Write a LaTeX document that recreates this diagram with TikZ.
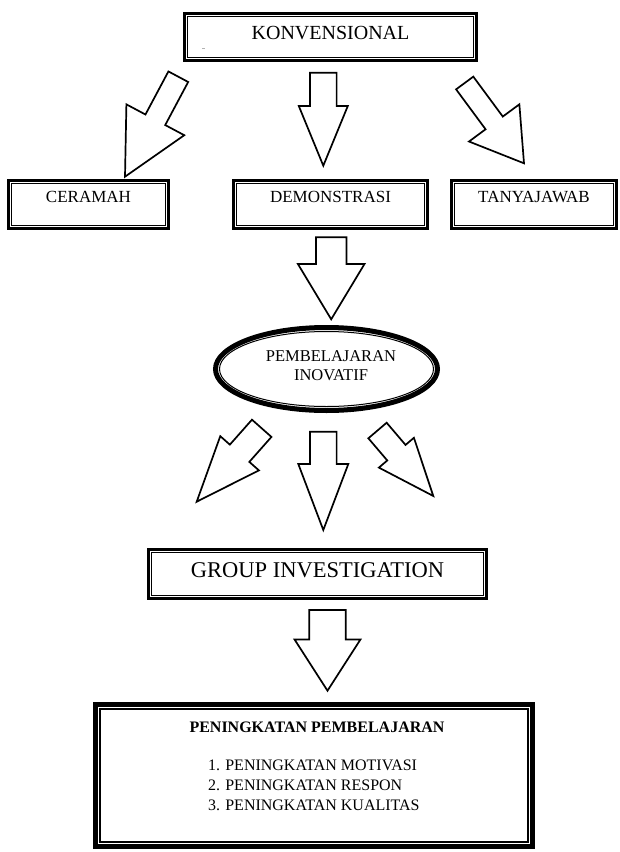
\documentclass[tikz,border=0pt]{standalone}
\usepackage{fontspec}
\setmainfont{Liberation Serif}
\usetikzlibrary{calc,shapes.geometric}
\tikzset{
  dblbox/.style={draw, line width=3pt, outer sep=0pt, inner sep=0pt},
  lvltwo/.style={dblbox, minimum height=48pt, text height=21.5pt, text depth=26.5pt, font=\fontsize{17}{20}\selectfont},
  barrow/.style={draw, line width=1.7pt, fill=white, line join=miter, miter limit=10},
  plaintext/.style={inner sep=0pt, outer sep=0pt},
}
% inner thin frame of a double-bordered box
\newcommand\innerframe[3]{\draw[line width=#3] ([shift={(#2,-#2)}]#1.north west) rectangle ([shift={(-#2,#2)}]#1.south east);}
% block arrow: #1 start, #2 tip, #3 half shaft width, #4 half head width, #5 head length
\newcommand\blockarrow[5]{%
  \coordinate (hb) at ($(#2)!#5!(#1)$);
  \draw[barrow] ($(#1)!#3!-90:(#2)$) -- ($(hb)!#3!90:(#1)$) -- ($(hb)!#4!90:(#1)$) -- (#2)
    -- ($(hb)!#4!-90:(#1)$) -- ($(hb)!#3!-90:(#1)$) -- ($(#1)!#3!90:(#2)$) -- cycle;}
\begin{document}
\begin{tikzpicture}[x=1pt,y=-1pt]
\fill[white] (0,0) rectangle (619,852);
\useasboundingbox (0,0) rectangle (619,852);

% top box
\node[dblbox, minimum width=292pt, minimum height=47pt, text height=25.5pt, text depth=21.5pt,
      font=\fontsize{20}{24}\selectfont] (konv) at (330.5,37) {KONVENSIONAL};
\innerframe{konv}{3.3pt}{1.2pt}
\draw[gray!60, line width=0.6pt] (202,48) -- (205,48);

% second level boxes
\node[lvltwo, minimum width=160pt] (ceramah) at (88.5,204.5) {CERAMAH};
\innerframe{ceramah}{3.3pt}{1.2pt}
\node[lvltwo, minimum width=194pt] (demo) at (330.5,204.5) {DEMONSTRASI};
\innerframe{demo}{3.3pt}{1.2pt}
\node[lvltwo, minimum width=165pt] (tanya) at (534,204.5) {TANYAJAWAB};
\innerframe{tanya}{3.3pt}{1.2pt}

% ellipse
\node[ellipse, draw, line width=5pt, outer sep=0pt, inner sep=0pt,
      minimum width=222pt, minimum height=83pt] (inov) at (326.5,369) {};
\draw[line width=1pt] (inov.center) ellipse [x radius=107pt, y radius=37.5pt];
\node[plaintext, align=center, font=\fontsize{16.5}{19}\selectfont] (inovtxt) at (331,365.5) {PEMBELAJARAN\\INOVATIF};

% group investigation
\node[dblbox, minimum width=338pt, minimum height=49pt, text height=27.5pt, text depth=21.5pt,
      font=\fontsize{22.5}{26}\selectfont] (group) at (317.5,574) {GROUP INVESTIGATION};
\innerframe{group}{3.3pt}{1.2pt}

% result box
\node[draw, line width=5pt, outer sep=0pt, inner sep=0pt, minimum width=437pt, minimum height=142pt] (res) at (314,775.5) {};
\innerframe{res}{4.3pt}{1.5pt}
\node[plaintext, anchor=base, font=\bfseries\fontsize{16}{19}\selectfont] (restitle) at (317,732) {PENINGKATAN PEMBELAJARAN};
\node[plaintext, anchor=base west, font=\fontsize{16}{19}\selectfont] (item1) at (208,770) {1. PENINGKATAN MOTIVASI};
\node[plaintext, anchor=base west, font=\fontsize{16}{19}\selectfont] (item2) at (208,790) {2. PENINGKATAN RESPON};
\node[plaintext, anchor=base west, font=\fontsize{16}{19}\selectfont] (item3) at (208,810) {3. PENINGKATAN KUALITAS};

% arrow end points
\coordinate (s1) at (178.3,76.7);  \coordinate (t1) at (125,176.7);
\coordinate (s2) at (323.3,72.7);  \coordinate (t2) at (323.3,165.7);
\coordinate (s3) at (464.7,83);    \coordinate (t3) at (524,163.3);
\coordinate (s4) at (331.2,237.3); \coordinate (t4) at (331.2,319.3);
\coordinate (s5) at (261.7,428.3); \coordinate (t5) at (196.7,501.7);
\coordinate (s6) at (323.3,431.7); \coordinate (t6) at (323.3,530);
\coordinate (s7) at (377.5,430.5); \coordinate (t7) at (433.3,496);
\coordinate (s8) at (327.5,610);   \coordinate (t8) at (327.5,690.7);

\blockarrow{s1}{t1}{11.2pt}{32.8pt}{64.5pt}
\blockarrow{s2}{t2}{13.3pt}{24.5pt}{59.7pt}
\blockarrow{s3}{t3}{10.7pt}{31.3pt}{50.2pt}
\blockarrow{s4}{t4}{15.3pt}{33.3pt}{55.3pt}
\blockarrow{s5}{t5}{13pt}{25.8pt}{64.7pt}
\blockarrow{s6}{t6}{13.3pt}{25pt}{66pt}
\blockarrow{s7}{t7}{12pt}{23pt}{56.9pt}
\blockarrow{s8}{t8}{18.2pt}{33pt}{51.3pt}
\end{tikzpicture}
\end{document}
